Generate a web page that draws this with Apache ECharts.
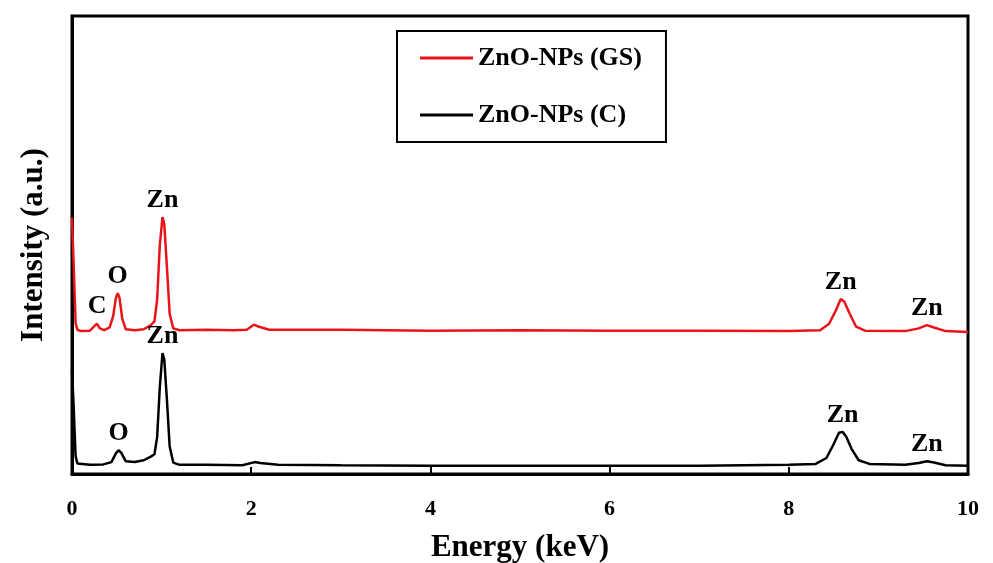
<!DOCTYPE html>
<html>
<head>
<meta charset="utf-8">
<script src="https://cdn.jsdelivr.net/npm/echarts@6/dist/echarts.min.js"></script>
<style>
  html, body { margin: 0; padding: 0; background: #fff; }
  #chart { width: 993px; height: 563px; }
</style>
</head>
<body>
<div id="chart"></div>
<script>
// EDS 谱图数据
var redEnergy = [0.00, 0.02, 0.04, 0.06, 0.10, 0.20, 0.25, 0.28, 0.31, 0.36, 0.42, 0.46, 0.49, 0.51, 0.53, 0.56, 0.60, 0.70, 0.80, 0.88, 0.92, 0.95, 0.98, 1.01, 1.03, 1.06, 1.09, 1.13, 1.20, 1.50, 1.80, 1.95, 2.03, 2.08, 2.20, 3.0, 4.0, 5.0, 6.0, 7.0, 8.0, 8.35, 8.45, 8.52, 8.58, 8.62, 8.68, 8.75, 8.85, 9.3, 9.45, 9.54, 9.62, 9.75, 10.0];
var redIntensity = [56, 45, 33, 31.5, 31.2, 31.3, 32.3, 32.8, 31.8, 31.4, 32.0, 34.5, 38.5, 39.5, 38.5, 34.0, 31.6, 31.4, 31.6, 32.5, 33.3, 38, 50, 56.1, 54.5, 45, 35, 31.8, 31.4, 31.5, 31.4, 31.5, 32.6, 32.2, 31.5, 31.5, 31.3, 31.4, 31.3, 31.3, 31.2, 31.4, 32.8, 35.5, 38.2, 37.6, 35.0, 32.2, 31.3, 31.2, 31.8, 32.5, 32.0, 31.2, 31.0];

var blackEnergy = [0.00, 0.02, 0.04, 0.06, 0.20, 0.35, 0.44, 0.49, 0.52, 0.55, 0.60, 0.70, 0.80, 0.88, 0.92, 0.95, 0.98, 1.01, 1.03, 1.06, 1.09, 1.13, 1.20, 1.50, 1.90, 2.04, 2.10, 2.30, 3.0, 4.0, 5.0, 6.0, 7.0, 8.0, 8.3, 8.42, 8.50, 8.56, 8.60, 8.64, 8.70, 8.78, 8.9, 9.3, 9.45, 9.54, 9.62, 9.75, 10.0];
var blackIntensity = [22.7, 14, 4, 2.3, 2.0, 2.1, 2.6, 4.5, 5.2, 4.6, 2.8, 2.6, 3.0, 3.8, 4.3, 8, 19, 26.4, 25, 16, 6, 2.5, 2.0, 2.0, 1.9, 2.6, 2.4, 2.0, 1.9, 1.8, 1.8, 1.8, 1.8, 2.0, 2.2, 3.5, 6.5, 9.0, 9.2, 8.2, 5.5, 3.0, 2.2, 2.0, 2.4, 2.8, 2.5, 1.9, 1.8];

// 峰标注
var redPeakEnergy = [0.28, 0.51, 1.01, 8.58, 9.54];
var redPeakName = ['C', 'O', 'Zn', 'Zn', 'Zn'];
var blackPeakEnergy = [0.52, 1.01, 8.60, 9.54];
var blackPeakName = ['O', 'Zn', 'Zn', 'Zn'];

var xTicks = [0, 2, 4, 6, 8, 10];

var seriesNames = ['ZnO-NPs (GS)', 'ZnO-NPs (C)'];
var font = 'Liberation Serif';

function pairs(xs, ys) {
    return xs.map(function (x, i) { return [x, ys[i]]; });
}
function peaks(es, names, xs, ys) {
    return es.map(function (e, i) {
        var k = xs.indexOf(e);
        return { name: names[i], coord: [e, ys[k]] };
    });
}

var myChart = echarts.init(document.getElementById('chart'));
var peakLabel = {
    show: true,
    position: 'top',
    distance: 4,
    formatter: '{b}',
    color: '#000',
    fontFamily: font,
    fontWeight: 'bold',
    fontSize: 26
};
var option = {
    backgroundColor: '#fff',
    animation: false,
    grid: {
        left: 72, right: 25, top: 16, bottom: 89,
        show: true, borderColor: '#000', borderWidth: 3,
        outerBoundsMode: 'none'
    },
    legend: {
        orient: 'vertical',
        left: 397, top: 31,
        data: seriesNames,
        icon: 'rect',
        borderColor: '#000',
        borderWidth: 2,
        borderRadius: 0,
        padding: [14, 24, 14, 23],
        itemGap: 31,
        itemWidth: 53,
        itemHeight: 3,
        textStyle: { fontFamily: font, fontWeight: 'bold', fontSize: 26, color: '#000' }
    },
    xAxis: {
        type: 'value', min: 0, max: 10, interval: 2,
        name: 'Energy (keV)', nameLocation: 'middle', nameGap: 58,
        nameTextStyle: { fontFamily: font, fontWeight: 'bold', fontSize: 31, color: '#000' },
        axisLine: { show: true, lineStyle: { color: '#000', width: 3 } },
        axisTick: { show: true, inside: true, length: 7, lineStyle: { color: '#000', width: 2 } },
        axisLabel: {
            margin: 24, color: '#000', fontFamily: font, fontWeight: 'bold', fontSize: 22,
            formatter: function (v) { return xTicks.indexOf(v) >= 0 ? String(v) : ''; }
        },
        splitLine: { show: false }
    },
    yAxis: {
        type: 'value', min: 0, max: 100,
        name: 'Intensity (a.u.)', nameLocation: 'middle', nameGap: 23, nameRotate: 90,
        nameTextStyle: { fontFamily: font, fontWeight: 'bold', fontSize: 31, color: '#000' },
        axisLine: { show: true, lineStyle: { color: '#000', width: 3 } },
        axisTick: { show: false },
        axisLabel: { show: false },
        splitLine: { show: false }
    },
    series: [{
        name: seriesNames[0],
        type: 'line',
        symbol: 'none',
        color: '#e8141a',
        lineStyle: { width: 2.5, color: '#e8141a' },
        data: pairs(redEnergy, redIntensity),
        markPoint: {
            symbol: 'circle', symbolSize: 0,
            label: peakLabel,
            data: peaks(redPeakEnergy, redPeakName, redEnergy, redIntensity)
        }
    }, {
        name: seriesNames[1],
        type: 'line',
        symbol: 'none',
        color: '#000',
        lineStyle: { width: 2.5, color: '#000' },
        data: pairs(blackEnergy, blackIntensity),
        markPoint: {
            symbol: 'circle', symbolSize: 0,
            label: peakLabel,
            data: peaks(blackPeakEnergy, blackPeakName, blackEnergy, blackIntensity)
        }
    }]
};
myChart.setOption(option);
</script>
</body>
</html>
